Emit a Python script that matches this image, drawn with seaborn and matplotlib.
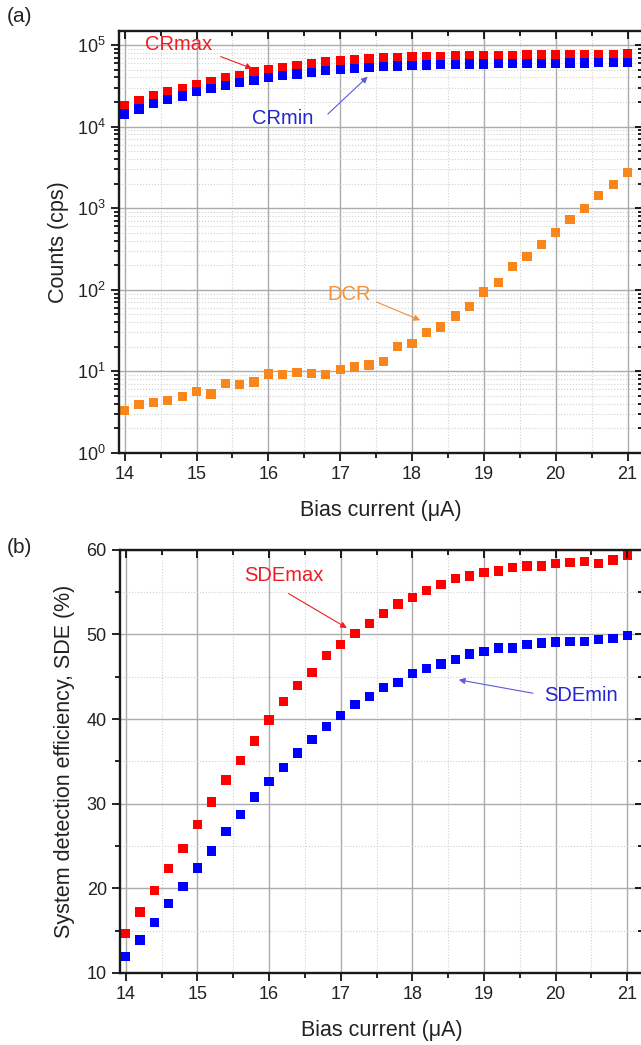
import numpy as np
import pandas as pd
import matplotlib
matplotlib.use("Agg")
import matplotlib.pyplot as plt
import matplotlib.ticker as mticker
import seaborn as sns

# bias current (uA), 14.0 .. 21.0 in 0.2 steps
bias = [14.0, 14.2, 14.4, 14.6, 14.8, 15.0, 15.2, 15.4, 15.6, 15.8,
        16.0, 16.2, 16.4, 16.6, 16.8, 17.0, 17.2, 17.4, 17.6, 17.8,
        18.0, 18.2, 18.4, 18.6, 18.8, 19.0, 19.2, 19.4, 19.6, 19.8,
        20.0, 20.2, 20.4, 20.6, 20.8, 21.0]

cr_max = [17950, 20650, 24170, 26750, 29370, 32820, 35990, 39520, 42560, 46700,
          49860, 53190, 56230, 58900, 61700, 64000, 65860, 67700, 69000, 70300,
          71600, 72300, 72950, 73600, 74300, 74300, 75000, 75000, 75700, 75700,
          75700, 76400, 76400, 77100, 77100, 77800]
cr_min = [14230, 16370, 19140, 21610, 23710, 26750, 29370, 31930, 34390, 37040,
          39520, 41790, 44170, 46280, 48460, 49860, 51780, 53190, 54200, 55230,
          56230, 56800, 57300, 57800, 58350, 58350, 58900, 58900, 59430, 59430,
          59430, 59980, 59980, 60530, 60530, 61100]
dcr = [3.34, 3.9, 4.15, 4.43, 4.9, 5.7, 5.3, 7.1, 6.9, 7.4,
       9.3, 9.1, 9.7, 9.4, 9.2, 10.5, 11.3, 12.0, 13.2, 20.2,
       21.8, 29.8, 34.9, 47.6, 62.6, 94, 122, 192, 255, 358,
       505, 720, 980, 1417, 1950, 2710]

sde_max = [14.65, 17.2, 19.7, 22.3, 24.7, 27.5, 30.2, 32.8, 35.1, 37.4,
           39.9, 42.1, 44.0, 45.5, 47.5, 48.8, 50.1, 51.3, 52.5, 53.6,
           54.4, 55.2, 55.9, 56.6, 56.9, 57.3, 57.5, 57.9, 58.1, 58.1,
           58.4, 58.5, 58.6, 58.4, 58.8, 59.3]
sde_min = [11.9, 13.9, 16.0, 18.2, 20.2, 22.4, 24.4, 26.7, 28.7, 30.8,
           32.6, 34.3, 36.0, 37.6, 39.1, 40.4, 41.7, 42.7, 43.7, 44.3,
           45.4, 46.0, 46.5, 47.0, 47.7, 48.0, 48.4, 48.4, 48.8, 49.0,
           49.1, 49.2, 49.2, 49.4, 49.5, 49.9]

RED = "#ff0000"
BLUE = "#0000ff"
ORANGE = "#f8861a"
TXT = "#222222"
EDGE = "#1a1a1a"

sns.set_style("white")
plt.rcParams["font.family"] = ["Liberation Sans", "DejaVu Sans"]
plt.rcParams["mathtext.fontset"] = "custom"
plt.rcParams["mathtext.rm"] = "Liberation Sans"

counts = pd.DataFrame({"bias": bias * 3,
                       "counts": cr_max + cr_min + dcr,
                       "series": ["CRmax"] * len(bias) + ["CRmin"] * len(bias) + ["DCR"] * len(bias)})
sde = pd.DataFrame({"bias": bias * 2,
                    "sde": sde_max + sde_min,
                    "series": ["SDEmax"] * len(bias) + ["SDEmin"] * len(bias)})

fig = plt.figure(figsize=(6.41, 10.45), dpi=100)
ax1 = fig.add_axes([0.1856, 0.5665, 0.818, 0.4038])
ax2 = fig.add_axes([0.1872, 0.069, 0.816, 0.4048])


def y_locators(log):
    if log:
        return (mticker.LogLocator(base=10, numticks=10),
                mticker.LogLocator(base=10, subs=np.arange(2, 10), numticks=20))
    return mticker.MultipleLocator(10), mticker.MultipleLocator(5)


def style_axis(ax, log=False):
    ax.set_xlim(13.92, 21.22)
    ax.xaxis.set_major_locator(mticker.MultipleLocator(1))
    ax.xaxis.set_minor_locator(mticker.MultipleLocator(0.5))
    major, minor = y_locators(log)
    ax.yaxis.set_major_locator(major)
    ax.yaxis.set_minor_locator(minor)
    ax.yaxis.set_minor_formatter(mticker.NullFormatter())
    ax.grid(which="major", color="#ababab", lw=1.0, ls="-")
    ax.grid(which="minor", color="#d0d0d0", lw=0.8, ls=":")
    ax.set_axisbelow(True)
    for s in ax.spines.values():
        s.set_linewidth(1.7)
        s.set_color(EDGE)
    ax.tick_params(which="both", direction="out", labelsize=13, colors=TXT, width=1.4)
    ax.tick_params(which="major", length=6)
    ax.tick_params(which="minor", length=3.5)

    # inward ticks on the top and right side of the frame
    tx = ax.twiny()
    tx.set_xlim(ax.get_xlim())
    tx.xaxis.set_major_locator(mticker.MultipleLocator(1))
    tx.xaxis.set_minor_locator(mticker.MultipleLocator(0.5))
    ty = ax.twinx()
    if log:
        ty.set_yscale("log")
    ty.set_ylim(ax.get_ylim())
    major, minor = y_locators(log)
    ty.yaxis.set_major_locator(major)
    ty.yaxis.set_minor_locator(minor)
    for t in (tx, ty):
        t.tick_params(which="both", direction="in", labeltop=False, labelright=False,
                      width=1.4, colors=EDGE)
        t.tick_params(which="major", length=6)
        t.tick_params(which="minor", length=3.5)
        for s in t.spines.values():
            s.set_visible(False)
    ax.set_xlabel("Bias current (μA)", fontsize=15.5, labelpad=12, color=TXT)


sns.scatterplot(data=counts, x="bias", y="counts", hue="series",
                palette={"CRmax": RED, "CRmin": BLUE, "DCR": ORANGE},
                marker="s", s=44, linewidth=0, legend=False, ax=ax1)
ax1.set_yscale("log")
ax1.set_ylim(1, 1.48e5)
ax1.set_ylabel("Counts (cps)", fontsize=15.5, labelpad=6, color=TXT)

arrow = dict(arrowstyle="-|>", lw=0.8, mutation_scale=9)
ax1.text(14.75, 1.0e5, "CRmax", color="#ee1c24", fontsize=14.5, ha="center", va="center")
ax1.annotate("", xy=(15.81, 5.0e4), xytext=(15.3, 7.4e4),
             arrowprops=dict(arrow, color="#ee1c24"))
ax1.text(16.2, 1.26e4, "CRmin", color="#2424d4", fontsize=14.5, ha="center", va="center")
ax1.annotate("", xy=(17.41, 4.3e4), xytext=(16.8, 1.35e4),
             arrowprops=dict(arrow, color="#5a5ae0"))
ax1.text(17.12, 88, "DCR", color="#f39237", fontsize=14.5, ha="center", va="center")
ax1.annotate("", xy=(18.15, 41), xytext=(17.47, 73),
             arrowprops=dict(arrow, color="#f39237"))
style_axis(ax1, log=True)

sns.scatterplot(data=sde, x="bias", y="sde", hue="series",
                palette={"SDEmax": RED, "SDEmin": BLUE},
                marker="s", s=44, linewidth=0, legend=False, ax=ax2)
ax2.set_ylim(10, 60)
ax2.set_ylabel("System detection efficiency, SDE (%)", fontsize=15.5, labelpad=8, color=TXT)

ax2.text(16.21, 57.0, "SDEmax", color="#ee1c24", fontsize=14.5, ha="center", va="center")
ax2.annotate("", xy=(17.12, 50.6), xytext=(16.24, 55.0),
             arrowprops=dict(arrow, color="#ee1c24"))
ax2.text(20.35, 42.8, "SDEmin", color="#2424d4", fontsize=14.5, ha="center", va="center")
ax2.annotate("", xy=(18.61, 44.7), xytext=(19.72, 43.0),
             arrowprops=dict(arrow, color="#5a5ae0"))
style_axis(ax2, log=False)

fig.text(0.011, 0.984, "(a)", fontsize=15, ha="left", va="center", color=TXT)
fig.text(0.011, 0.4765, "(b)", fontsize=15, ha="left", va="center", color=TXT)

fig.savefig("out.png", dpi=100)
